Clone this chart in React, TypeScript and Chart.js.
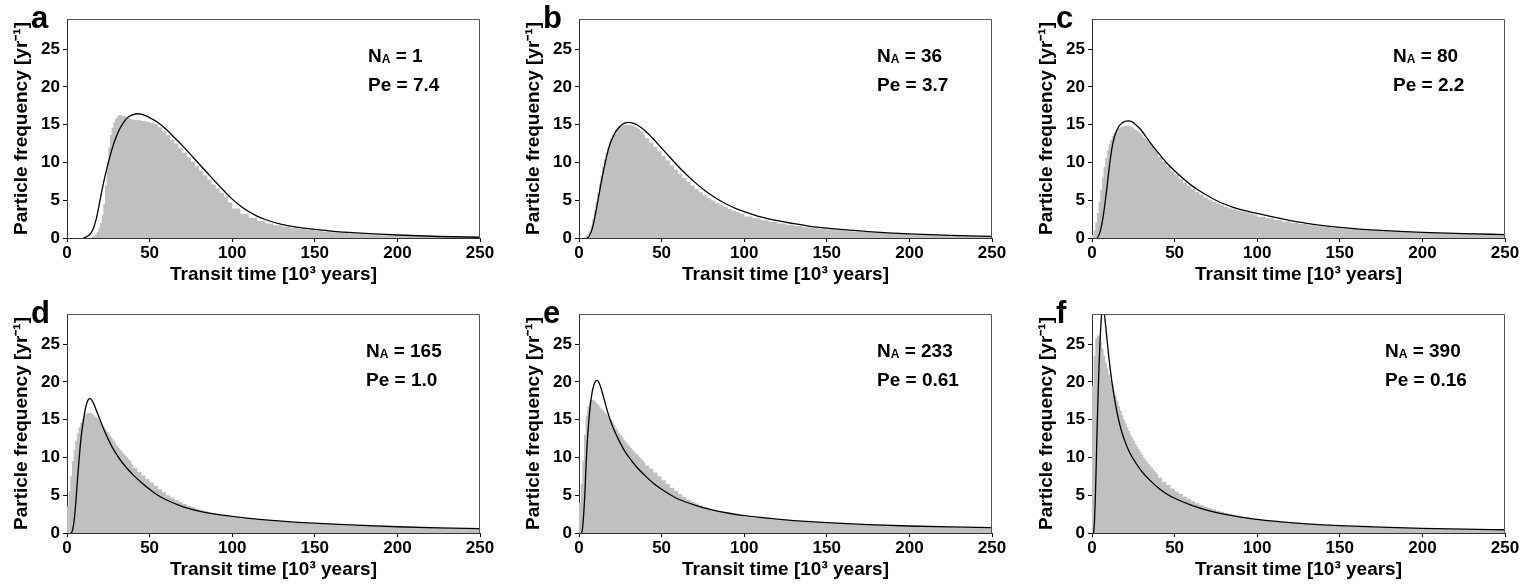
import React, { useEffect, useRef } from "react";
import { Chart, registerables } from "chart.js";

Chart.register(...registerables);

const FONT = '"Liberation Sans", Arial, Helvetica, sans-serif';

// ---- labels ----
const panelLetters = ["a", "b", "c", "d", "e", "f"];
const naLabels = ["1", "36", "80", "165", "233", "390"];
const peLabels = ["7.4", "3.7", "2.2", "1.0", "0.61", "0.16"];
const xTicks = [0, 50, 100, 150, 200, 250];
const yTicks = [0, 5, 10, 15, 20, 25];
const xTitle = "Transit time [10\u00B3 years]";
const yTitle = "Particle frequency [yr\u207B\u00B9]";

// ---- histogram bins (start of each bin, 10^3 years) ----
const binStarts = [
  0, 1, 2, 3, 4, 5, 6, 7, 8, 9, 10, 11, 12, 13, 14, 15, 16, 17, 18, 19,
  20, 21, 22, 23, 24, 25, 26, 27, 28, 29, 30, 31, 32, 33, 34, 35, 36, 37, 38, 39,
  40, 42.5, 45, 47.5, 50, 52.5, 55, 57.5, 60, 62.5, 65, 67.5, 70, 72.5, 75, 77.5, 80, 82.5, 85, 87.5,
  90, 92.5, 95, 97.5,
  100, 105, 110, 115, 120, 125, 130, 135, 140, 145, 150, 155, 160, 165, 170, 175, 180, 185, 190, 195,
  200, 205, 210, 215, 220, 225, 230, 235, 240, 245,
];
const binEnd = 250;

// ---- simulated particle histograms ----
const histA = [
  0, 0, 0, 0, 0, 0, 0, 0, 0, 0, 0, 0, 0, 0, 0, 0.05, 0.15, 0.3, 0.5, 0.8,
  1.3, 2.0, 3.0, 4.5, 7.0, 10.0, 12.0, 13.6, 14.6, 15.3, 15.8, 16.1, 16.3, 16.3, 16.2, 16.2, 16.1, 16.0, 15.9, 15.8,
  15.7, 15.65, 15.6, 15.5, 15.4, 15.25, 15.1, 14.65, 14.15, 13.6, 13.05, 12.5, 11.9, 11.3, 10.7, 10.1, 9.5, 8.9, 8.3, 7.7,
  7.1, 6.55, 6.0, 5.45,
  4.7, 3.9, 3.22, 2.68, 2.26, 1.93, 1.68, 1.48, 1.32, 1.18, 1.06, 0.95, 0.85, 0.76, 0.68, 0.6, 0.54, 0.48, 0.43, 0.38,
  0.33, 0.29, 0.25, 0.22, 0.19, 0.17, 0.15, 0.13, 0.11, 0.1,
];
const histB = [
  0, 0, 0, 0, 0.1, 0.25, 0.5, 0.9, 1.6, 2.5, 3.6, 4.8, 6.0, 7.2, 8.3, 9.4, 10.4, 11.3, 12.0, 12.7,
  13.2, 13.6, 14.0, 14.3, 14.5, 14.7, 14.8, 14.9, 14.95, 15.0, 15.0, 15.0, 14.95, 14.9, 14.8, 14.7, 14.55, 14.4, 14.25, 14.1,
  13.75, 13.2, 12.65, 12.05, 11.45, 10.85, 10.25, 9.65, 9.05, 8.5, 7.95, 7.45, 6.95, 6.5, 6.05, 5.65, 5.3, 4.95, 4.65, 4.35,
  4.1, 3.85, 3.6, 3.4,
  3.2, 2.85, 2.6, 2.35, 2.12, 1.93, 1.74, 1.58, 1.44, 1.32, 1.21, 1.12, 1.03, 0.95, 0.87, 0.8, 0.74, 0.68, 0.62, 0.57,
  0.52, 0.48, 0.44, 0.41, 0.37, 0.34, 0.31, 0.28, 0.25, 0.22,
];
const histC = [
  0.1, 0.4, 1.0, 2.0, 3.3, 4.8, 6.4, 8.0, 9.4, 10.6, 11.6, 12.4, 13.0, 13.5, 13.9, 14.2, 14.4, 14.55, 14.65, 14.75,
  14.8, 14.85, 14.85, 14.8, 14.75, 14.65, 14.5, 14.35, 14.2, 14.0, 13.85, 13.6, 13.35, 13.1, 12.9, 12.7, 12.45, 12.2, 11.95, 11.7,
  11.4, 10.75, 10.1, 9.5, 8.9, 8.4, 7.85, 7.35, 6.9, 6.5, 6.1, 5.75, 5.4, 5.1, 4.8, 4.55, 4.35, 4.15, 3.95, 3.8,
  3.65, 3.5, 3.4, 3.25,
  3.08, 2.83, 2.6, 2.38, 2.18, 2.0, 1.84, 1.7, 1.57, 1.45, 1.34, 1.25, 1.17, 1.1, 1.03, 0.97, 0.92, 0.87, 0.82, 0.77,
  0.73, 0.69, 0.65, 0.62, 0.59, 0.56, 0.53, 0.5, 0.48, 0.46,
];
const histD = [
  1.5, 3.5, 5.5, 7.5, 9.5, 11.0, 12.2, 13.2, 14.0, 14.6, 15.1, 15.5, 15.8, 15.9, 15.9, 15.9, 15.8, 15.6, 15.4, 15.2,
  14.9, 14.6, 14.3, 14.0, 13.7, 13.4, 13.1, 12.8, 12.5, 12.2, 11.9, 11.6, 11.3, 11.0, 10.75, 10.5, 10.25, 10.0, 9.75, 9.5,
  9.1, 8.6, 8.1, 7.6, 7.15, 6.7, 6.25, 5.8, 5.4, 5.0, 4.7, 4.4, 4.1, 3.85, 3.6, 3.4, 3.2, 3.05, 2.9, 2.75,
  2.6, 2.5, 2.4, 2.3,
  2.2, 2.05, 1.92, 1.82, 1.72, 1.63, 1.55, 1.47, 1.4, 1.33, 1.27, 1.21, 1.16, 1.11, 1.06, 1.02, 0.98, 0.94, 0.9, 0.87,
  0.84, 0.81, 0.78, 0.75, 0.72, 0.69, 0.66, 0.63, 0.61, 0.59,
];
const histE = [
  2.5, 4.0, 6.5, 9.5, 13.0, 15.5, 16.8, 17.4, 17.6, 17.6, 17.5, 17.3, 17.05, 16.8, 16.5, 16.25, 16.0, 15.8, 15.55, 15.3,
  15.0, 14.65, 14.3, 13.95, 13.6, 13.25, 12.95, 12.65, 12.35, 12.05, 11.8, 11.55, 11.3, 11.05, 10.8, 10.55, 10.35, 10.1, 9.9, 9.7,
  9.4, 8.95, 8.5, 8.0, 7.5, 7.0, 6.5, 6.0, 5.55, 5.15, 4.8, 4.45, 4.15, 3.9, 3.65, 3.45, 3.25, 3.05, 2.9, 2.75,
  2.62, 2.52, 2.43, 2.35,
  2.25, 2.1, 1.98, 1.87, 1.78, 1.7, 1.62, 1.55, 1.48, 1.42, 1.36, 1.3, 1.25, 1.2, 1.15, 1.11, 1.07, 1.03, 0.99, 0.96,
  0.93, 0.9, 0.87, 0.84, 0.81, 0.79, 0.76, 0.74, 0.72, 0.7,
];
const histF = [
  14.0, 19.5, 23.5, 25.8, 26.2, 26.0, 25.3, 24.4, 23.5, 22.6, 21.8, 21.0, 20.3, 19.6, 18.9, 18.2, 17.5, 16.8, 16.2, 15.6,
  15.0, 14.5, 14.0, 13.5, 13.0, 12.6, 12.2, 11.8, 11.4, 11.05, 10.7, 10.35, 10.0, 9.7, 9.4, 9.1, 8.85, 8.6, 8.35, 8.1,
  7.8, 7.3, 6.8, 6.35, 5.9, 5.5, 5.15, 4.8, 4.5, 4.2, 3.95, 3.7, 3.5, 3.3, 3.1, 2.95, 2.8, 2.65, 2.5, 2.4,
  2.3, 2.2, 2.1, 2.0,
  1.9, 1.75, 1.62, 1.5, 1.4, 1.31, 1.23, 1.16, 1.09, 1.03, 0.97, 0.92, 0.87, 0.83, 0.79, 0.75, 0.72, 0.69, 0.66, 0.63,
  0.6, 0.58, 0.55, 0.53, 0.51, 0.49, 0.47, 0.45, 0.43, 0.41,
];

// ---- model curves ----
const curveAx = [10, 12, 14, 16, 18, 20, 22, 24, 26, 28, 30, 32, 34, 36, 38, 40, 42.5, 45, 47.5, 50, 55, 60, 65, 70, 75, 80, 85, 90, 95, 100, 105, 110, 115, 120, 130, 140, 150, 160, 175, 200, 225, 250];
const curveAy = [0, 0.2, 0.5, 1.3, 2.8, 5.0, 7.2, 9.1, 10.8, 12.3, 13.5, 14.5, 15.2, 15.8, 16.15, 16.35, 16.45, 16.4, 16.2, 15.95, 15.3, 14.4, 13.3, 12.2, 11.0, 9.8, 8.6, 7.4, 6.25, 5.15, 4.25, 3.5, 2.9, 2.45, 1.8, 1.4, 1.15, 0.92, 0.68, 0.4, 0.2, 0.1];
const curveBx = [5, 6, 8, 10, 12, 14, 16, 18, 20, 22, 24, 26, 28, 30, 32, 35, 40, 45, 50, 55, 60, 65, 70, 75, 80, 85, 90, 95, 100, 110, 120, 130, 140, 150, 160, 175, 200, 225, 250];
const curveBy = [0, 0.2, 1.2, 3.2, 5.6, 8.0, 10.1, 11.9, 13.1, 14.0, 14.6, 15.0, 15.25, 15.3, 15.25, 15.0, 14.2, 13.1, 11.9, 10.7, 9.5, 8.4, 7.4, 6.5, 5.7, 5.0, 4.4, 3.9, 3.5, 2.8, 2.3, 1.9, 1.55, 1.3, 1.1, 0.85, 0.55, 0.35, 0.22];
const curveCx = [3, 4, 5, 6, 7, 8, 9, 10, 11, 12, 13, 14, 16, 18, 20, 22, 24, 26, 28, 30, 35, 40, 45, 50, 55, 60, 65, 70, 75, 80, 85, 90, 95, 100, 110, 120, 130, 140, 150, 160, 175, 200, 225, 250];
const curveCy = [0, 0.3, 0.9, 1.9, 3.2, 4.8, 6.6, 8.5, 10.3, 11.8, 12.9, 13.7, 14.7, 15.2, 15.45, 15.5, 15.4, 15.1, 14.7, 14.2, 12.7, 11.3, 10.0, 8.9, 7.9, 7.0, 6.25, 5.6, 5.0, 4.5, 4.1, 3.75, 3.5, 3.25, 2.75, 2.3, 1.95, 1.65, 1.4, 1.22, 1.0, 0.75, 0.58, 0.46];
const curveDx = [2.5, 3.5, 4.5, 5.5, 6.5, 7.5, 8.5, 10, 11, 12, 13, 14, 15, 16, 17.5, 20, 22.5, 25, 27.5, 30, 32.5, 35, 40, 45, 50, 55, 60, 70, 80, 90, 100, 110, 120, 130, 140, 150, 175, 200, 225, 250];
const curveDy = [0, 0.5, 2.0, 4.5, 7.5, 10.2, 12.6, 15.0, 16.3, 17.2, 17.7, 17.8, 17.6, 17.2, 16.4, 15.0, 13.6, 12.4, 11.3, 10.4, 9.6, 8.9, 7.7, 6.7, 5.8, 5.0, 4.4, 3.5, 2.9, 2.5, 2.2, 1.95, 1.75, 1.57, 1.42, 1.3, 1.03, 0.83, 0.68, 0.57];
const curveEx = [1.5, 2, 2.5, 3, 3.5, 4, 4.5, 5, 6, 7, 8, 9, 10, 11, 12.5, 15, 17.5, 20, 22.5, 25, 27.5, 30, 35, 40, 45, 50, 55, 60, 70, 80, 90, 100, 110, 120, 130, 140, 150, 175, 200, 225, 250];
const curveEy = [0, 0.4, 1.5, 3.0, 5.0, 7.5, 10.0, 12.0, 15.0, 17.2, 18.7, 19.6, 20.1, 20.2, 19.7, 17.9, 15.9, 14.3, 13.0, 11.9, 10.9, 10.1, 8.7, 7.6, 6.6, 5.8, 5.1, 4.5, 3.7, 3.1, 2.65, 2.3, 2.05, 1.83, 1.65, 1.5, 1.37, 1.12, 0.93, 0.8, 0.7];
const curveFx = [1, 1.5, 2, 2.5, 3, 3.5, 4, 4.5, 5, 5.5, 6, 6.5, 7, 7.5, 8, 9, 10, 11, 12, 14, 16, 18, 20, 22.5, 25, 30, 35, 40, 45, 50, 60, 70, 80, 90, 100, 110, 120, 130, 140, 150, 175, 200, 225, 250];
const curveFy = [0, 1.5, 4.5, 8.5, 13.0, 17.0, 20.5, 23.5, 26.0, 28.0, 29.4, 30.0, 29.8, 29.0, 28.0, 25.8, 23.7, 21.8, 20.1, 17.3, 15.1, 13.4, 12.1, 10.8, 9.8, 8.2, 7.0, 6.0, 5.2, 4.6, 3.7, 3.0, 2.5, 2.1, 1.8, 1.56, 1.37, 1.21, 1.08, 0.97, 0.77, 0.62, 0.51, 0.43];

const histograms = [histA, histB, histC, histD, histE, histF];
const curveXs = [curveAx, curveBx, curveCx, curveDx, curveEx, curveFx];
const curveYs = [curveAy, curveBy, curveCy, curveDy, curveEy, curveFy];

// ---- layout (not data) ----
const CANVAS_W = 500;
const CANVAS_H = 290;
const colLefts = [0, 512, 1025];
const rowTops = [0, 295];
const annX = [368, 365, 368, 366, 365, 360];

function makeTextPlugin(i: number) {
  return {
    id: "panelText" + i,
    afterDraw(chart: any) {
      const ctx = chart.ctx as CanvasRenderingContext2D;
      const area = chart.chartArea;
      ctx.save();
      // top & right frame
      ctx.strokeStyle = "#555";
      ctx.lineWidth = 1;
      ctx.beginPath();
      const t = Math.round(area.top) + 0.5;
      const r = Math.round(area.right) - 0.5;
      ctx.moveTo(Math.round(area.left), t);
      ctx.lineTo(r, t);
      ctx.lineTo(r, Math.round(area.bottom));
      ctx.stroke();

      ctx.fillStyle = "#000";
      ctx.textBaseline = "alphabetic";
      ctx.textAlign = "left";
      // panel letter
      ctx.font = `bold 31px ${FONT}`;
      ctx.fillText(panelLetters[i], 31, 28);
      // N_A line
      const x = annX[i];
      ctx.font = `bold 19px ${FONT}`;
      ctx.fillText("N", x, 62);
      const wN = ctx.measureText("N").width;
      ctx.font = `bold 12px ${FONT}`;
      ctx.fillText("A", x + wN, 62.5);
      const wA = ctx.measureText("A").width;
      ctx.font = `bold 19px ${FONT}`;
      ctx.fillText(" = " + naLabels[i], x + wN + wA, 62);
      // Pe line
      ctx.fillText("Pe = " + peLabels[i], x, 91);
      ctx.restore();
    },
  };
}

function Panel({ index, left, top }: { index: number; left: number; top: number }) {
  const ref = useRef<HTMLCanvasElement | null>(null);

  useEffect(() => {
    if (!ref.current) return;
    const hist = histograms[index];
    const histData = binStarts.map((x, k) => ({ x, y: hist[k] }));
    histData.push({ x: binEnd, y: hist[hist.length - 1] });
    const cx = curveXs[index];
    const cy = curveYs[index];
    const curveData = cx.map((x, k) => ({ x, y: cy[k] }));

    const tickFont = { size: 17, weight: "bold" as const, family: FONT };
    const titleFont = { size: 19, weight: "bold" as const, family: FONT };

    const chart = new Chart(ref.current, {
      type: "line",
      data: {
        datasets: [
          {
            label: "Model",
            data: curveData,
            borderColor: "#000",
            borderWidth: 1.3,
            pointRadius: 0,
            cubicInterpolationMode: "monotone",
            fill: false,
            order: 0,
          } as any,
          {
            label: "Particles",
            data: histData,
            stepped: "after",
            borderWidth: 0,
            borderColor: "rgba(0,0,0,0)",
            backgroundColor: "#c0c0c0",
            fill: "origin",
            pointRadius: 0,
            order: 1,
          } as any,
        ],
      },
      options: {
        responsive: false,
        animation: false,
        devicePixelRatio: 1,
        events: [],
        layout: { padding: { left: 7, top: 19, right: 20, bottom: 4 } },
        plugins: {
          legend: { display: false },
          tooltip: { enabled: false },
        },
        scales: {
          x: {
            type: "linear",
            min: 0,
            max: 250,
            afterBuildTicks: (s: any) => {
              s.ticks = xTicks.map((v) => ({ value: v }));
            },
            afterFit: (s: any) => {
              s.height = 48;
            },
            ticks: { font: tickFont, color: "#000", padding: 1, autoSkip: false, maxRotation: 0 },
            grid: {
              display: true,
              drawOnChartArea: false,
              drawTicks: true,
              tickLength: 4,
              color: "#000",
              tickColor: "#000",
            },
            border: { display: true, color: "#333", width: 1 },
            title: {
              display: true,
              text: xTitle,
              font: titleFont,
              color: "#000",
              padding: { top: 0, bottom: 0 },
            },
          },
          y: {
            type: "linear",
            min: 0,
            max: 29,
            afterBuildTicks: (s: any) => {
              s.ticks = yTicks.map((v) => ({ value: v }));
            },
            afterFit: (s: any) => {
              s.width = 60;
            },
            ticks: { font: tickFont, color: "#000", padding: 3, autoSkip: false },
            grid: {
              display: true,
              drawOnChartArea: false,
              drawTicks: true,
              tickLength: 4,
              color: "#000",
              tickColor: "#000",
            },
            border: { display: true, color: "#333", width: 1 },
            title: {
              display: true,
              text: yTitle,
              font: titleFont,
              color: "#000",
              padding: { top: 3, bottom: 0 },
            },
          },
        },
      } as any,
      plugins: [makeTextPlugin(index)],
    });
    return () => chart.destroy();
  }, [index]);

  return (
    <canvas
      ref={ref}
      width={CANVAS_W}
      height={CANVAS_H}
      style={{ position: "absolute", left, top, width: CANVAS_W, height: CANVAS_H }}
    />
  );
}

export default function App() {
  return (
    <div style={{ position: "absolute", left: 0, top: 0, width: 1527, height: 588, background: "#fff" }}>
      {panelLetters.map((_, i) => (
        <Panel key={i} index={i} left={colLefts[i % 3]} top={rowTops[Math.floor(i / 3)]} />
      ))}
    </div>
  );
}
